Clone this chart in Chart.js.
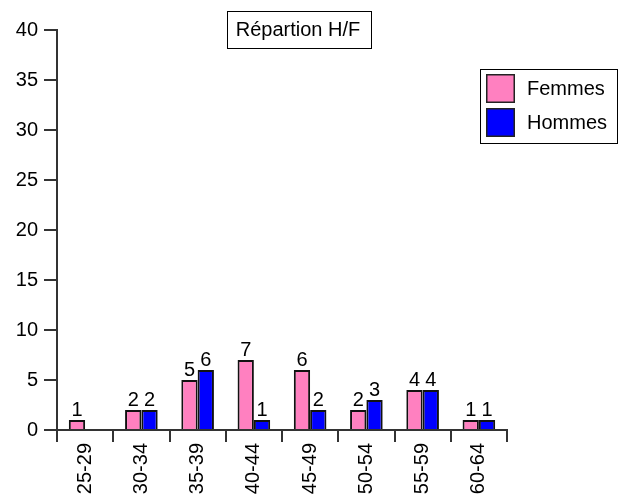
<!DOCTYPE html>
<html>
<head>
<meta charset="utf-8">
<script src="https://cdn.jsdelivr.net/npm/chart.js@4/dist/chart.umd.min.js"></script>
<style>
html,body{margin:0;padding:0;background:#fff;}
#wrap{width:619px;height:504px;position:relative;}
</style>
</head>
<body>
<div id="wrap"><canvas id="c" width="619" height="504"></canvas></div>
<script>
const categories = ["25-29","30-34","35-39","40-44","45-49","50-54","55-59","60-64"];
const femmes = [1,2,5,7,6,2,4,1];
const hommes = [null,2,6,1,2,3,4,1];
const yTicks = [0,5,10,15,20,25,30,35,40];
const titleText = "Répartion H/F";
const seriesNames = ["Femmes","Hommes"];
const seriesColors = ["#FF80C0","#0000FF"];

const FONT = "Liberation Sans, Arial, sans-serif";

const extras = {
  id: 'extras',
  afterDatasetsDraw(chart) {
    const ctx = chart.ctx;
    ctx.save();
    // data labels
    ctx.font = "20px " + FONT;
    ctx.fillStyle = "#000";
    ctx.textAlign = "center";
    ctx.textBaseline = "alphabetic";
    chart.data.datasets.forEach((ds, di) => {
      const meta = chart.getDatasetMeta(di);
      meta.data.forEach((el, i) => {
        const v = ds.data[i];
        if (v === null || v === undefined) return;
        ctx.fillText(String(v), el.x, el.y - 4);
      });
    });
    // title box
    ctx.textBaseline = "middle";
    ctx.textAlign = "center";
    ctx.fillText(titleText, 298, 30);
    ctx.strokeStyle = "#000";
    ctx.lineWidth = 1;
    ctx.strokeRect(227.5, 11.5, 144, 37);
    // legend box
    ctx.strokeRect(480.5, 69.5, 137, 74);
    const sw = [[486, 74], [486, 108]];
    seriesNames.forEach((n, i) => {
      ctx.fillStyle = seriesColors[i];
      ctx.fillRect(sw[i][0], sw[i][1], 29, 29);
      ctx.strokeStyle = "#222";
      ctx.lineWidth = 1.5;
      ctx.strokeRect(sw[i][0] + 0.75, sw[i][1] + 0.75, 27.5, 27.5);
      ctx.fillStyle = "#000";
      ctx.textAlign = "left";
      ctx.fillText(n, 527, sw[i][1] + 15);
    });
    ctx.restore();
  }
};

new Chart(document.getElementById('c'), {
  type: 'bar',
  data: {
    labels: categories,
    datasets: [
      { label: seriesNames[0], data: femmes, backgroundColor: seriesColors[0], borderColor: "#111", borderWidth: 2, barPercentage: 1, categoryPercentage: 0.58 },
      { label: seriesNames[1], data: hommes, backgroundColor: seriesColors[1], borderColor: "#111", borderWidth: 2, barPercentage: 1, categoryPercentage: 0.58 }
    ]
  },
  options: {
    responsive: false,
    animation: false,
    devicePixelRatio: 1,
    layout: { padding: { top: 30, right: 112, left: 0, bottom: 0 } },
    plugins: { legend: { display: false }, title: { display: false }, tooltip: { enabled: false } },
    scales: {
      x: {
        afterFit(s) { s.height = 74; },
        grid: { display: true, drawOnChartArea: false, drawTicks: true, tickLength: 12, tickWidth: 2, lineWidth: 2, color: "#333", offset: true },
        border: { display: true, color: "#333", width: 2 },
        ticks: { color: "#000", font: { family: FONT, size: 20 }, minRotation: 90, maxRotation: 90, padding: 1, autoSkip: false }
      },
      y: {
        min: 0, max: 40,
        afterFit(s) { s.width = 57; },
        afterBuildTicks(s) { s.ticks = yTicks.map(v => ({ value: v })); },
        grid: { display: true, drawOnChartArea: false, drawTicks: true, tickLength: 13, tickWidth: 2, lineWidth: 2, color: "#333" },
        border: { display: true, color: "#333", width: 2 },
        ticks: { color: "#000", font: { family: FONT, size: 20 }, padding: 6 }
      }
    }
  },
  plugins: [extras]
});
</script>
</body>
</html>
